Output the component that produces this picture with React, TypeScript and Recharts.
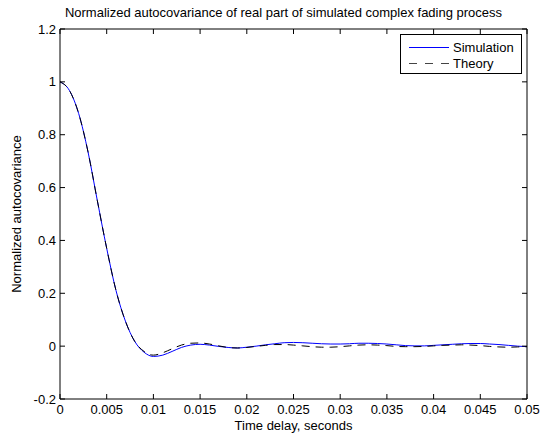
import React from "react";
import { LineChart, Line, XAxis, YAxis } from "recharts";

const delays = [
  0, 0.001, 0.002, 0.003, 0.004, 0.005, 0.006, 0.007, 0.008, 0.009,
  0.01, 0.011, 0.012, 0.013, 0.014, 0.015, 0.016, 0.017, 0.018, 0.019,
  0.02, 0.021, 0.022, 0.023, 0.024, 0.025, 0.026, 0.027, 0.028, 0.029,
  0.03, 0.031, 0.032, 0.033, 0.034, 0.035, 0.036, 0.037, 0.038, 0.039,
  0.04, 0.041, 0.042, 0.043, 0.044, 0.045, 0.046, 0.047, 0.048, 0.049, 0.05,
];

const simulation = [
  1.0, 0.968, 0.88, 0.735, 0.55, 0.37, 0.21, 0.095, 0.018, -0.023,
  -0.039, -0.034, -0.02, -0.005, 0.004, 0.007, 0.004, -0.001, -0.005, -0.007,
  -0.004, 0.0, 0.005, 0.009, 0.013, 0.014, 0.013, 0.011, 0.009, 0.008,
  0.008, 0.009, 0.011, 0.011, 0.01, 0.008, 0.005, 0.002, 0.001, 0.001,
  0.003, 0.005, 0.007, 0.009, 0.01, 0.01, 0.008, 0.006, 0.003, 0.0, -0.002,
];

const theory = [
  1.0, 0.968, 0.88, 0.735, 0.55, 0.37, 0.21, 0.095, 0.018, -0.02,
  -0.034, -0.025, -0.01, 0.004, 0.011, 0.012, 0.008, 0.001, -0.005, -0.007,
  -0.005, -0.001, 0.003, 0.006, 0.006, 0.004, 0.001, -0.002, -0.004, -0.004,
  -0.002, 0.001, 0.004, 0.005, 0.004, 0.002, -0.001, -0.002, -0.002, -0.001,
  0.001, 0.003, 0.004, 0.005, 0.004, 0.002, -0.001, -0.003, -0.004, -0.003, -0.002,
];

const xTicks = [0, 0.005, 0.01, 0.015, 0.02, 0.025, 0.03, 0.035, 0.04, 0.045, 0.05];
const yTicks = [-0.2, 0, 0.2, 0.4, 0.6, 0.8, 1, 1.2];

const title = "Normalized autocovariance of real part of simulated complex fading process";
const xLabel = "Time delay, seconds";
const yLabel = "Normalized autocovariance";
const seriesNames = ["Simulation", "Theory"];

const data = delays.map((t, i) => ({ t, sim: simulation[i], theo: theory[i] }));

const font = "'Liberation Sans', Arial, sans-serif";
const fs = 13;
const tickStyle = { fill: "#000", fontSize: fs, fontFamily: font };
const noLabel = () => <g />;

export default function App() {
  return (
    <div style={{ position: "absolute", left: 0, top: 0, width: 540, height: 434, background: "#fff", fontFamily: font }}>
      <div style={{ position: "absolute", left: 0, top: 5, width: 567, textAlign: "center", fontSize: fs, whiteSpace: "nowrap" }}>
        {title}
      </div>
      <LineChart width={540} height={434} data={data} margin={{ top: 29, right: 13, bottom: 0, left: 0 }}>
        <XAxis
          xAxisId={0}
          dataKey="t"
          type="number"
          domain={[0, 0.05]}
          ticks={xTicks}
          tickFormatter={(v) => String(v)}
          tick={tickStyle}
          tickLine={false}
          tickSize={0}
          tickMargin={6}
          height={35}
          axisLine={{ stroke: "#000" }}
          allowDataOverflow
          label={{ value: xLabel, position: "insideBottom", offset: 4, fill: "#000", fontSize: fs, fontFamily: font }}
        />
        <XAxis xAxisId="btm" dataKey="t" type="number" domain={[0, 0.05]} ticks={xTicks} orientation="bottom" mirror tick={noLabel} tickSize={5} axisLine={false} tickLine={{ stroke: "#000" }} height={35} allowDataOverflow />
        <XAxis xAxisId="top" dataKey="t" type="number" domain={[0, 0.05]} ticks={xTicks} orientation="top" mirror tick={noLabel} tickSize={5} axisLine={{ stroke: "#000" }} tickLine={{ stroke: "#000" }} allowDataOverflow />
        <YAxis
          yAxisId={0}
          type="number"
          domain={[-0.2, 1.2]}
          ticks={yTicks}
          tick={tickStyle}
          tickLine={false}
          tickSize={0}
          tickMargin={4}
          width={60}
          axisLine={{ stroke: "#000" }}
          allowDataOverflow
          label={{ value: yLabel, angle: -90, position: "center", dx: -14, fill: "#000", fontSize: fs, fontFamily: font }}
        />
        <YAxis yAxisId="lft" type="number" domain={[-0.2, 1.2]} ticks={yTicks} orientation="left" mirror tick={noLabel} tickSize={5} axisLine={false} tickLine={{ stroke: "#000" }} allowDataOverflow />
        <YAxis yAxisId="rgt" type="number" domain={[-0.2, 1.2]} ticks={yTicks} orientation="right" mirror tick={noLabel} tickSize={5} axisLine={{ stroke: "#000" }} tickLine={{ stroke: "#000" }} allowDataOverflow />
        {/* invisible series so the tick-only axes get a scale */}
        <Line xAxisId="btm" yAxisId="lft" dataKey="sim" stroke="none" dot={false} legendType="none" isAnimationActive={false} />
        <Line xAxisId="top" yAxisId="rgt" dataKey="sim" stroke="none" dot={false} legendType="none" isAnimationActive={false} />
        <Line
          xAxisId={0}
          yAxisId={0}
          dataKey="sim"
          name={seriesNames[0]}
          type="monotone"
          stroke="#0000ff"
          strokeWidth={1}
          dot={false}
          isAnimationActive={false}
        />
        <Line
          xAxisId={0}
          yAxisId={0}
          dataKey="theo"
          name={seriesNames[1]}
          type="monotone"
          stroke="#000"
          strokeWidth={1}
          strokeDasharray="8 6"
          dot={false}
          isAnimationActive={false}
        />
      </LineChart>
      <div
        style={{
          position: "absolute",
          left: 400,
          top: 34,
          width: 122,
          height: 40,
          border: "1px solid #000",
          boxSizing: "border-box",
          background: "#fff",
          fontSize: fs,
        }}
      >
        {seriesNames.map((name, i) => (
          <div key={name} style={{ position: "absolute", left: 8, top: 4 + i * 16, height: 16, display: "flex", alignItems: "center" }}>
            <svg width={40} height={16} style={{ display: "block" }}>
              <line
                x1={0}
                y1={8.5}
                x2={40}
                y2={8.5}
                stroke={i === 0 ? "#0000ff" : "#444"}
                strokeDasharray={i === 0 ? undefined : "8 8"}
              />
            </svg>
            <span style={{ marginLeft: 4 }}>{name}</span>
          </div>
        ))}
      </div>
    </div>
  );
}
